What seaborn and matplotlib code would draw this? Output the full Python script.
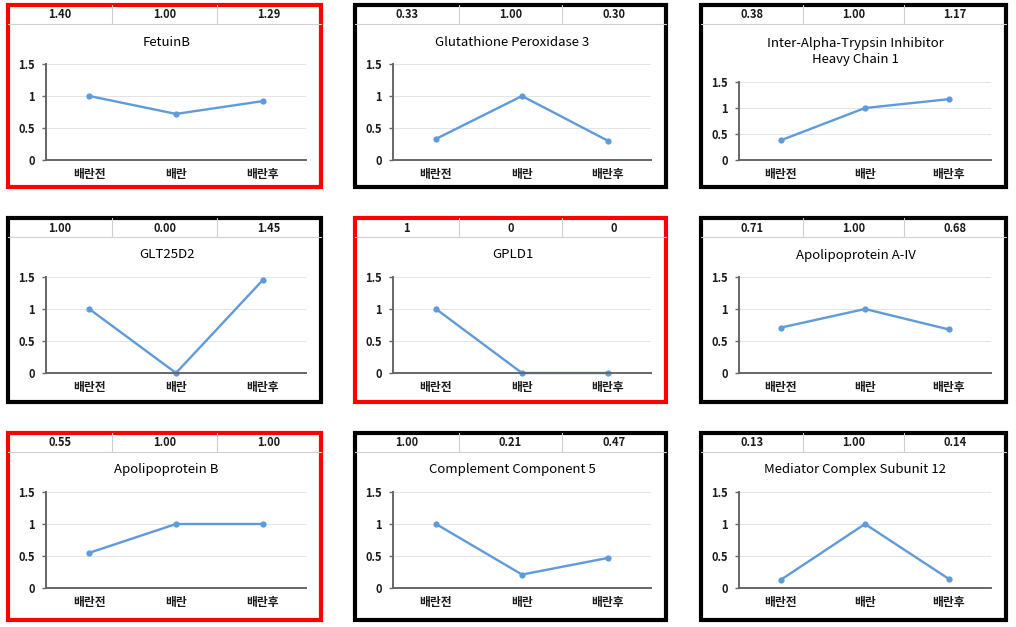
import matplotlib
matplotlib.use("Agg")
import matplotlib.pyplot as plt
from matplotlib.patches import Rectangle
from matplotlib.lines import Line2D
import seaborn as sns
import pandas as pd

sns.set_theme(style="white")
plt.rcParams['font.family'] = ['Noto Sans CJK KR', 'DejaVu Sans']

# data
categories = ['배란전', '배란', '배란후']
titles = ['FetuinB', 'Glutathione Peroxidase 3', 'Inter-Alpha-Trypsin Inhibitor\nHeavy Chain 1',
          'GLT25D2', 'GPLD1', 'Apolipoprotein A-IV',
          'Apolipoprotein B', 'Complement Component 5', 'Mediator Complex Subunit 12']
table_vals = [['1.40', '1.00', '1.29'], ['0.33', '1.00', '0.30'], ['0.38', '1.00', '1.17'],
              ['1.00', '0.00', '1.45'], ['1', '0', '0'], ['0.71', '1.00', '0.68'],
              ['0.55', '1.00', '1.00'], ['1.00', '0.21', '0.47'], ['0.13', '1.00', '0.14']]
fetuin_b = [1.00, 0.72, 0.92]
gpx3 = [0.33, 1.00, 0.30]
itih1 = [0.38, 1.00, 1.17]
glt25d2 = [1.00, 0.00, 1.45]
gpld1 = [1.0, 0.0, 0.0]
apoa4 = [0.71, 1.00, 0.68]
apob = [0.55, 1.00, 1.00]
c5 = [1.00, 0.21, 0.47]
med12 = [0.13, 1.00, 0.14]
plot_vals = [fetuin_b, gpx3, itih1, glt25d2, gpld1, apoa4, apob, c5, med12]
highlight = [True, False, False, False, True, False, True, False, False]

# layout in pixels
W, H = 1016, 627
col_x = [(8, 321), (355, 666), (701, 1006)]
row_y = [(5, 187), (218, 402), (433, 620)]
line_col = '#5f9bd8'
txt_col = '#1a1a1a'

fig = plt.figure(figsize=(W / 100, H / 100), dpi=100)

def fx(x):
    return x / W

def fy(y):
    return 1 - y / H

for i in range(9):
    r, c = divmod(i, 3)
    x0, x1 = col_x[c]
    y0, y1 = row_y[r]
    edge = '#ff0000' if highlight[i] else '#000000'

    # small table row on top
    cw = (x1 - x0) / 3
    for k in range(3):
        fig.text(fx(x0 + cw * (k + 0.5)), fy(y0 + 10), table_vals[i][k],
                 ha='center', va='center', fontsize=8, fontweight='bold', color=txt_col)
    for k in (1, 2):
        fig.add_artist(Line2D([fx(x0 + cw * k)] * 2, [fy(y0), fy(y0 + 19)],
                              color='#d0d0d0', lw=0.8, transform=fig.transFigure))
    fig.add_artist(Line2D([fx(x0), fx(x1)], [fy(y0 + 19)] * 2,
                          color='#d0d0d0', lw=0.8, transform=fig.transFigure))

    two_line = '\n' in titles[i]
    fig.text(fx((x0 + x1) / 2 + 2), fy(y0 + (47 if two_line else 37)), titles[i],
             ha='center', va='center', fontsize=9.5, color='#000000',
             linespacing=1.3)

    ax_top = y0 + (77 if two_line else 59)
    ax_bot = y0 + 155
    ax_l, ax_r = x0 + 38, x1 - 15
    ax = fig.add_axes([fx(ax_l), fy(ax_bot), (ax_r - ax_l) / W, (ax_bot - ax_top) / H])

    df = pd.DataFrame({'pos': [0, 1, 2], 'val': plot_vals[i]})
    sns.lineplot(data=df, x='pos', y='val', ax=ax, color=line_col, lw=1.7,
                 marker='o', markersize=4.5, markeredgewidth=0, clip_on=False)

    ax.set_xlim(-0.5, 2.5)
    ax.set_ylim(0, 1.5)
    ax.set_yticks([0, 0.5, 1, 1.5])
    ax.set_yticklabels(['0', '0.5', '1', '1.5'], fontweight='bold')
    ax.set_xticks([0, 1, 2])
    ax.set_xticklabels(categories, fontweight='bold')
    ax.set_xticks([-0.5, 0.5, 1.5, 2.5], minor=True)
    ax.set_xlabel('')
    ax.set_ylabel('')
    ax.tick_params(axis='x', which='major', length=0, pad=6, labelsize=8.5, labelcolor=txt_col)
    ax.tick_params(axis='x', which='minor', length=3, width=1, direction='out', color='#666666')
    ax.tick_params(axis='y', length=3, width=1, direction='out', color='#666666',
                   pad=5, labelsize=8, labelcolor=txt_col, left=True)
    ax.grid(axis='y', color='#e4e4e4', lw=0.7)
    for s in ('top', 'right'):
        ax.spines[s].set_visible(False)
    for s in ('left', 'bottom'):
        ax.spines[s].set_color('#666666')
        ax.spines[s].set_linewidth(1.4)
    ax.set_facecolor('none')

    fig.add_artist(Rectangle((fx(x0), fy(y1)), fx(x1 - x0), (y1 - y0) / H, fill=False,
                             edgecolor=edge, lw=3, transform=fig.transFigure))

fig.savefig('out.png', dpi=100)
